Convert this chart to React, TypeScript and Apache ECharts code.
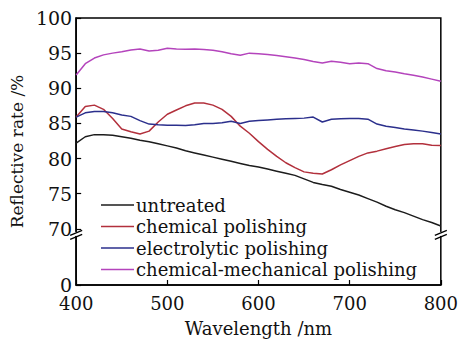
import React, { useEffect, useRef } from "react";
import * as echarts from "echarts";

const wavelengths = [
  400, 410, 420, 430, 440, 450, 460, 470, 480, 490, 500, 510, 520, 530, 540, 550, 560, 570, 580, 590,
  600, 610, 620, 630, 640, 650, 660, 670, 680, 690, 700, 710, 720, 730, 740, 750, 760, 770, 780, 790, 800,
];

const untreated = [
  82.2, 83.1, 83.4, 83.4, 83.3, 83.1, 82.9, 82.6, 82.4, 82.1, 81.8, 81.5, 81.1, 80.8, 80.5, 80.2, 79.9, 79.6, 79.3, 79.0,
  78.8, 78.5, 78.2, 77.9, 77.6, 77.1, 76.6, 76.3, 76.05, 75.6, 75.2, 74.8, 74.3, 73.8, 73.2, 72.7, 72.3, 71.8, 71.3, 70.9, 70.4,
];

const chemical = [
  85.9, 87.4, 87.6, 87.0, 85.7, 84.2, 83.8, 83.5, 83.9, 85.2, 86.3, 86.9, 87.5, 87.9, 87.9, 87.6, 87.0, 86.0, 84.6, 83.6,
  82.4, 81.3, 80.3, 79.4, 78.7, 78.1, 77.9, 77.8, 78.4, 79.1, 79.7, 80.3, 80.8, 81.05, 81.4, 81.7, 82.0, 82.1, 82.1, 81.9, 81.85,
];

const electrolytic = [
  85.9, 86.5, 86.7, 86.7, 86.5, 86.2, 86.0, 85.4, 84.9, 84.8, 84.75, 84.75, 84.7, 84.8, 85.0, 85.0, 85.1, 85.3, 85.0, 85.3,
  85.4, 85.5, 85.6, 85.65, 85.7, 85.75, 85.9, 85.2, 85.6, 85.65, 85.7, 85.7, 85.6, 84.9, 84.6, 84.4, 84.2, 84.05, 83.9, 83.7, 83.5,
];

const chemMech = [
  91.9, 93.5, 94.3, 94.75, 95.0, 95.2, 95.45, 95.6, 95.3, 95.4, 95.7, 95.6, 95.55, 95.6, 95.5, 95.4, 95.2, 94.9, 94.7, 95.0,
  94.9, 94.8, 94.65, 94.5, 94.3, 94.1, 93.8, 93.6, 93.85, 93.7, 93.5, 93.6, 93.5, 92.8, 92.5, 92.3, 92.05, 91.85, 91.6, 91.3, 91.0,
];

const seriesNames = ["untreated", "chemical polishing", "electrolytic polishing", "chemical-mechanical polishing"];
const seriesColors = ["#1c1c1c", "#b2303c", "#2b2f8c", "#b444bc"];
const yTickLabels = [0, 70, 75, 80, 85, 90, 95, 100];
const xTicks = [400, 500, 600, 700, 800];

// broken axis: values from 70 upward are shifted down so 70 sits 8 units above 0
const BREAK_LOW = 70;
const BREAK_GAP = 8;
const toAxis = (v: number) => (v >= BREAK_LOW ? v - BREAK_LOW + BREAK_GAP : v);
const fromAxis = (d: number) => (d >= BREAK_GAP ? d + BREAK_LOW - BREAK_GAP : d);

const FONT = "DejaVu Serif";

export default function App() {
  const ref = useRef<HTMLDivElement>(null);
  useEffect(() => {
    if (!ref.current) return;
    const chart = echarts.init(ref.current, undefined, { renderer: "svg" });
    const all = [untreated, chemical, electrolytic, chemMech];
    const yCustom = yTickLabels.map(toAxis);
    chart.setOption({
      animation: false,
      backgroundColor: "#fff",
      grid: { left: 73, right: 19, top: 18, bottom: 49, show: true, borderColor: "#000", borderWidth: 1.5 },
      legend: {
        orient: "vertical",
        left: 96,
        top: 191,
        icon: "rect",
        itemWidth: 33,
        itemHeight: 1.6,
        itemGap: 3.5,
        data: seriesNames,
        textStyle: { fontFamily: FONT, fontSize: 18, color: "#111", lineHeight: 18, padding: [0, 0, 0, -3] },
      },
      xAxis: {
        type: "value",
        min: 400,
        max: 800,
        interval: 100,
        name: "Wavelength /nm",
        nameLocation: "middle",
        nameGap: 34,
        nameTextStyle: { fontFamily: FONT, fontSize: 18, color: "#111" },
        axisLine: { lineStyle: { color: "#000", width: 1.5 } },
        axisTick: { inside: true, length: 5, lineStyle: { color: "#000", width: 1.2 } },
        axisLabel: {
          margin: 11,
          fontFamily: FONT,
          fontSize: 18,
          lineHeight: 14,
          color: "#111",
          formatter: (v: number) => (xTicks.includes(v) ? String(v) : ""),
        },
        splitLine: { show: false },
      },
      yAxis: {
        type: "value",
        min: 0,
        max: toAxis(100),
        name: "Reflective rate /%",
        nameLocation: "middle",
        nameGap: 44,
        nameTextStyle: { fontFamily: FONT, fontSize: 17, color: "#111" },
        axisLine: { lineStyle: { color: "#000", width: 1.5 } },
        axisTick: { inside: true, length: 5, customValues: yCustom, lineStyle: { color: "#000", width: 1.2 } },
        axisLabel: {
          margin: 4,
          fontFamily: FONT,
          fontSize: 19,
          lineHeight: 14,
          color: "#111",
          customValues: yCustom,
          formatter: (d: number) => String(Math.round(fromAxis(d))),
        },
        splitLine: { show: false },
      },
      series: all.map((vals, i) => ({
        type: "line",
        name: seriesNames[i],
        symbol: "none",
        smooth: false,
        data: wavelengths.map((w, j) => [w, toAxis(vals[j])]),
        lineStyle: { color: seriesColors[i], width: 1.5 },
        itemStyle: { color: seriesColors[i] },
        z: 3,
      })),
    });

    const breakD = 7.2;
    const graphics: any[] = [];
    [400, 800].forEach((xv) => {
      const p = chart.convertToPixel({ gridIndex: 0 }, [xv, breakD]) as number[];
      const x = p[0];
      const y = p[1];
      graphics.push({
        type: "rect",
        shape: { x: x - 3, y: y - 2.5, width: 6, height: 4 },
        style: { fill: "#fff" },
        z: 100,
      });
      graphics.push({
        type: "line",
        shape: { x1: x - 6, y1: y + 1, x2: x + 6, y2: y - 4 },
        style: { stroke: "#000", lineWidth: 1.3 },
        z: 101,
      });
      graphics.push({
        type: "line",
        shape: { x1: x - 6, y1: y + 5, x2: x + 6, y2: y },
        style: { stroke: "#000", lineWidth: 1.3 },
        z: 101,
      });
    });
    chart.setOption({ graphic: graphics });

    return () => chart.dispose();
  }, []);
  return <div ref={ref} style={{ width: 461, height: 342, position: "absolute", left: 0, top: 0 }} />;
}
